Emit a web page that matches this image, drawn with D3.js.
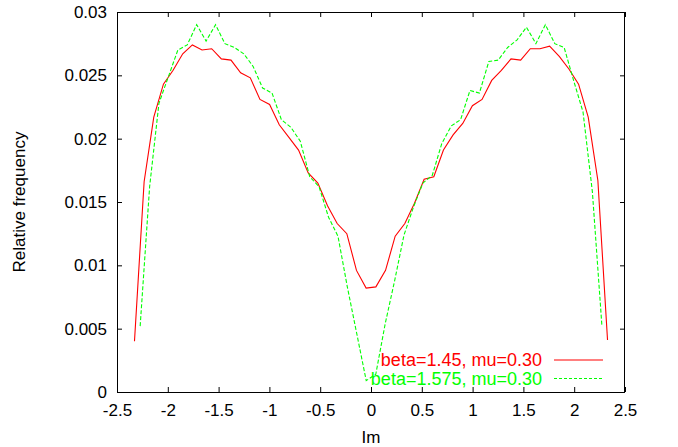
<!DOCTYPE html>
<html><head><meta charset="utf-8">
<script src="https://cdn.jsdelivr.net/npm/d3@7"></script>
<style>html,body{margin:0;padding:0;background:#fff;}svg{display:block;}</style>
</head><body>
<svg id="chart" width="678" height="447"></svg>
<script>
const xTicks = [-2.5,-2,-1.5,-1,-0.5,0,0.5,1,1.5,2,2.5];
const yTicks = [0,0.005,0.01,0.015,0.02,0.025,0.03];
const xLabel = "Im";
const yLabel = "Relative frequency";
const seriesNames = ["beta=1.45, mu=0.30", "beta=1.575, mu=0.30"];

const redX = [-2.328,-2.233,-2.138,-2.043,-1.948,-1.853,-1.758,-1.663,-1.568,-1.473,-1.378,-1.283,-1.188,-1.093,-0.998,-0.903,-0.808,-0.713,-0.618,-0.523,-0.428,-0.333,-0.238,-0.143,-0.048,
  0.048,0.143,0.238,0.333,0.428,0.523,0.618,0.713,0.808,0.903,0.998,1.093,1.188,1.283,1.378,1.473,1.568,1.663,1.758,1.853,1.948,2.043,2.138,2.233,2.328];
const redY = [0.0040,0.0166,0.0217,0.0243,0.0254,0.0267,0.0274,0.0270,0.0271,0.0263,0.0262,0.0252,0.0248,0.0231,0.0227,0.0211,0.0201,0.0191,0.0173,0.0165,0.0147,0.0133,0.0125,0.0096,0.0082,
  0.0083,0.0096,0.0123,0.0133,0.0149,0.0168,0.0170,0.0191,0.0203,0.0212,0.0226,0.0231,0.0246,0.0254,0.0263,0.0262,0.0271,0.0271,0.0273,0.0265,0.0255,0.0243,0.0217,0.0167,0.0041];

const greenX = [-2.272,-2.179,-2.087,-1.994,-1.901,-1.809,-1.716,-1.623,-1.530,-1.438,-1.345,-1.252,-1.160,-1.067,-0.974,-0.882,-0.789,-0.696,-0.603,-0.511,-0.418,-0.325,-0.233,-0.140,-0.047,
  0.047,0.140,0.233,0.325,0.418,0.511,0.603,0.696,0.789,0.882,0.974,1.067,1.160,1.252,1.345,1.438,1.530,1.623,1.716,1.809,1.901,1.994,2.087,2.179,2.272];
const greenY = [0.0052,0.0162,0.0228,0.0249,0.0270,0.0274,0.0290,0.0277,0.0290,0.0275,0.0272,0.0267,0.0257,0.0240,0.0236,0.0215,0.0209,0.0198,0.0170,0.0162,0.0138,0.0123,0.0083,0.0046,0.0009,
  0.0014,0.0054,0.0088,0.0124,0.0146,0.0165,0.0171,0.0196,0.0210,0.0215,0.0238,0.0236,0.0261,0.0262,0.0272,0.0278,0.0288,0.0275,0.0290,0.0275,0.0272,0.0246,0.0221,0.0158,0.0053];

const L = 117, R = 625, T = 12, B = 392;
const svg = d3.select("#chart");
const x = d3.scaleLinear().domain([-2.5, 2.5]).range([L, R]);
const y = d3.scaleLinear().domain([0, 0.03]).range([B, T]);
const font = "'Liberation Sans', Arial, Helvetica, sans-serif";
const fs = 17;

// axes with inward ticks (mirrored)
const fmtX = d => String(d);
const fmtY = d => String(+d.toFixed(3));
const gB = svg.append("g").attr("transform", `translate(0,${B})`)
  .call(d3.axisBottom(x).tickValues(xTicks).tickFormat(fmtX).tickSizeInner(-5).tickSizeOuter(0).tickPadding(12));
const gT = svg.append("g").attr("transform", `translate(0,${T})`)
  .call(d3.axisTop(x).tickValues(xTicks).tickFormat("").tickSizeInner(-5).tickSizeOuter(0));
const gL = svg.append("g").attr("transform", `translate(${L},0)`)
  .call(d3.axisLeft(y).tickValues(yTicks).tickFormat(fmtY).tickSizeInner(-5).tickSizeOuter(0).tickPadding(12));
const gR = svg.append("g").attr("transform", `translate(${R},0)`)
  .call(d3.axisRight(y).tickValues(yTicks).tickFormat("").tickSizeInner(-5).tickSizeOuter(0));
[gB,gT,gL,gR].forEach(g => {
  g.select(".domain").remove();
  g.selectAll(".tick line").attr("stroke", "#000").attr("stroke-width", 1);
  g.selectAll("text").attr("fill", "#000").style("font-family", font).style("font-size", fs + "px");
});
gL.selectAll("text").attr("dx", "2");

// frame
svg.append("rect").attr("x", L + 0.5).attr("y", T + 0.5).attr("width", R - L - 1).attr("height", B - T)
  .attr("fill", "none").attr("stroke", "#000").attr("stroke-width", 1);

// lines
const line = d3.line().x(d => x(d[0])).y(d => y(d[1]));
const redData = redX.map((v, i) => [v, redY[i]]);
const greenData = greenX.map((v, i) => [v, greenY[i]]);
svg.append("path").datum(redData).attr("d", line).attr("fill", "none").attr("stroke", "#ff0000").attr("stroke-width", 1.1);
svg.append("path").datum(greenData).attr("d", line).attr("fill", "none").attr("stroke", "#00ff00").attr("stroke-width", 1.1).attr("stroke-dasharray", "4,2");

// legend
const leg = [
  {name: seriesNames[0], color: "#ff0000", dash: null, yy: 360},
  {name: seriesNames[1], color: "#00ff00", dash: "3,2", yy: 378.5}
];
leg.forEach(l => {
  svg.append("text").attr("x", 542).attr("y", l.yy).attr("dy", "0.36em").attr("text-anchor", "end")
    .attr("fill", l.color).style("font-family", font).style("font-size", "18px").text(l.name);
  svg.append("line").attr("x1", 554).attr("x2", 603).attr("y1", l.yy).attr("y2", l.yy)
    .attr("stroke", l.color).attr("stroke-width", 1.1).attr("stroke-dasharray", l.dash);
});

// axis titles
svg.append("text").attr("x", x(0)).attr("y", 443).attr("text-anchor", "middle")
  .style("font-family", font).style("font-size", fs + "px").text(xLabel);
svg.append("text").attr("transform", `translate(25,${(T + B) / 2}) rotate(-90)`).attr("text-anchor", "middle")
  .style("font-family", font).style("font-size", fs + "px").text(yLabel);
</script>
</body></html>
